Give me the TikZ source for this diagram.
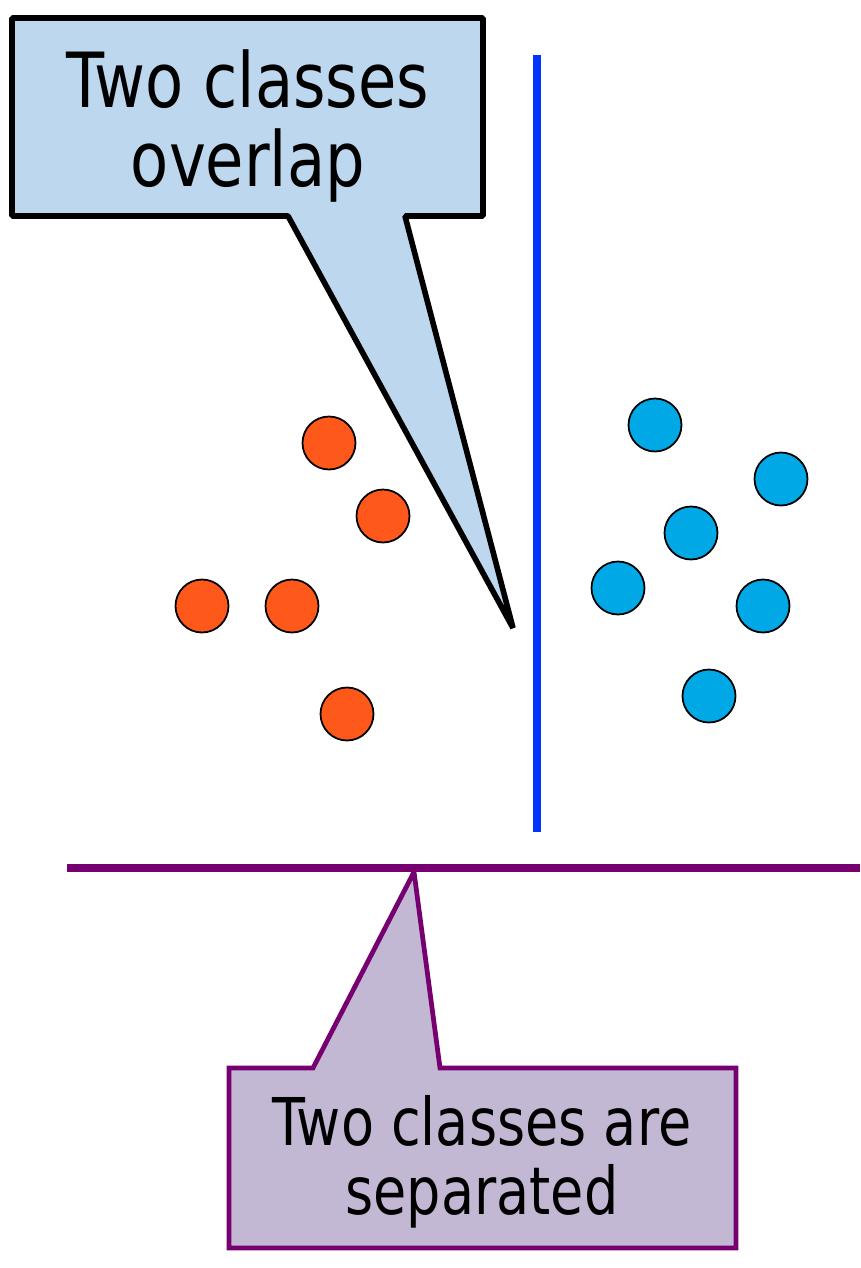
\documentclass[tikz,border=0pt]{standalone}
\usepackage{fontspec}
\setmainfont{DejaVu Sans}[FakeStretch=0.82]
\usepackage{tikz}
\usetikzlibrary{positioning}
\usepackage{xcolor}
\definecolor{calloutblue}{HTML}{BDD7EE}
\definecolor{calloutlilac}{HTML}{C3B8D3}
\definecolor{sepblue}{HTML}{0033FF}
\definecolor{seppurple}{HTML}{770070}
\definecolor{classorange}{HTML}{FF581B}
\definecolor{classcyan}{HTML}{00A8E6}

\begin{document}
\begin{tikzpicture}[x=0.02cm,y=-0.02cm,
  dot/.style={circle,draw=black,line width=1pt,minimum size=1.06cm,inner sep=0pt}]
\useasboundingbox (0,0) rectangle (860,1268);
% first class
\node[dot,fill=classorange] (o1) at (329,443) {};
\node[dot,fill=classorange] (o2) at (383,516) {};
\node[dot,fill=classorange] (o3) at (202,606) {};
\node[dot,fill=classorange] (o4) at (292,606) {};
\node[dot,fill=classorange] (o5) at (347,714) {};
% second class
\node[dot,fill=classcyan] (c1) at (655,425) {};
\node[dot,fill=classcyan] (c2) at (781,479) {};
\node[dot,fill=classcyan] (c3) at (691,533) {};
\node[dot,fill=classcyan] (c4) at (618,588) {};
\node[dot,fill=classcyan] (c5) at (763,606) {};
\node[dot,fill=classcyan] (c6) at (709,696) {};
% separating lines
\coordinate (vtop) at (537,55);
\coordinate (vbot) at (537,832);
\draw[line width=5pt,sepblue] (vtop) -- (vbot);
\coordinate (hleft) at (67,868);
\coordinate (hright) at (860,868);
% callouts
\coordinate (tipA) at (513,628);
\draw[line width=3.2pt,line join=bevel,fill=calloutblue] (12,18) -- (483,18) -- (483,216) -- (405,216) -- (tipA) -- (288,216) -- (12,216) -- cycle;
\node[align=center,inner sep=0pt,font=\fontsize{43.3}{45.5}\selectfont] (overlapText) at (248,126) {Two classes\\overlap};
\coordinate (tipB) at (414,872);
\draw[line width=2.7pt,seppurple,fill=calloutlilac] (229,1068) -- (313,1068) -- (tipB) -- (440,1068) -- (736,1068) -- (736,1248) -- (229,1248) -- cycle;
\draw[line width=5pt,seppurple] (hleft) -- (hright);
\node[align=center,inner sep=0pt,font=\fontsize{37.5}{39.5}\selectfont] (sepText) at (482,1162) {Two classes are\\separated};
\end{tikzpicture}
\end{document}
